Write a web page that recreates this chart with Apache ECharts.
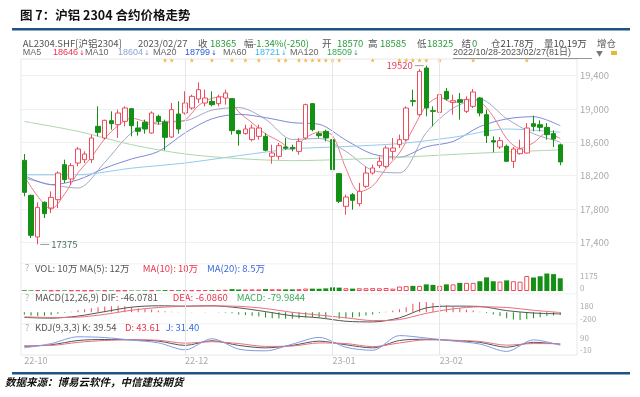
<!DOCTYPE html>
<html>
<head>
<meta charset="utf-8">
<script src="https://cdn.jsdelivr.net/npm/echarts@6/dist/echarts.min.js"></script>
<style>
  html, body { margin: 0; padding: 0; background: #fff; }
  #chart { width: 640px; height: 397px; }
</style>
</head>
<body>
<div id="chart"></div>
<script>
// trading days of AL2304, 2022/10/28 - 2023/02/27 (81 days)
const octDays = [28, 31];
const novDays = [1, 2, 3, 4, 7, 8, 9, 10, 11, 14, 15, 16, 17, 18, 21, 22, 23, 24, 25, 28, 29, 30];
const decDays = [1, 2, 5, 6, 7, 8, 9, 12, 13, 14, 15, 16, 19, 20, 21, 22, 23, 26, 27, 28, 29, 30];
const janDays = [3, 4, 5, 6, 9, 10, 11, 12, 13, 16, 17, 18, 19, 20, 30, 31];
const febDays = [1, 2, 3, 6, 7, 8, 9, 10, 13, 14, 15, 16, 17, 20, 21, 22, 23, 24, 27];
const monthLabels = ['22-10', '22-12', '23-01', '23-02'];
const priceTicks = [17400, 17800, 18200, 18600, 19000, 19400];

const opens = [18384, 17964, 17464, 17880, 17812, 17912, 18332, 18160, 18352, 18392, 18392, 18792, 18652, 18860, 18812, 18852, 19004, 18772, 18840, 18712,
  18912, 18844, 18664, 18940, 18952, 19012, 19120, 19072, 19092, 19064, 19132, 19124, 18740, 18704, 18632, 18672, 18672, 18432, 18432, 18544,
  18540, 18492, 18652, 19064, 18704, 18732, 18632, 18224, 17832, 17972, 17864, 18072, 18232, 18320, 18312, 18492, 18572, 18632, 19100, 18932,
  19492, 18980, 18960, 19212, 19080, 19112, 18972, 19032, 19132, 18932, 18620, 18544, 18552, 18372, 18464, 18472, 18824, 18812, 18780, 18704, 18570];
const closes = [18000, 17484, 17820, 17744, 17940, 18232, 18152, 18320, 18520, 18460, 18652, 18720, 18864, 18824, 18952, 19012, 18800, 18732, 18760, 18952,
  18852, 18660, 18992, 18760, 19072, 19152, 19232, 19132, 19052, 19144, 19192, 18740, 18704, 18760, 18772, 18772, 18504, 18472, 18560, 18528,
  18524, 18612, 19052, 18752, 18680, 18652, 18272, 17892, 17944, 17904, 18012, 18232, 18292, 18372, 18532, 18532, 18632, 19012, 19092, 19452,
  19012, 18972, 19172, 19120, 19100, 19080, 19112, 19204, 18952, 18680, 18604, 18620, 18372, 18520, 18520, 18772, 18792, 18780, 18692, 18640, 18365];
const highs = [18460, 17972, 17880, 17892, 18012, 18252, 18392, 18352, 18544, 18492, 18692, 19032, 18872, 18972, 18992, 19032, 19012, 18852, 18872, 18972,
  18932, 18872, 19072, 19092, 19212, 19172, 19320, 19232, 19212, 19172, 19232, 19132, 18752, 18812, 18812, 18812, 18712, 18572, 18592, 18652,
  18572, 18652, 19064, 19072, 18732, 18752, 18640, 18232, 17972, 17992, 18112, 18312, 18332, 18432, 18560, 18652, 18692, 19032, 19232, 19480,
  19520, 19032, 19240, 19252, 19172, 19192, 19152, 19240, 19144, 18992, 18672, 18664, 18572, 18544, 18632, 18832, 18920, 18864, 18832, 18744, 18585];
const lows = [17952, 17452, 17375, 17692, 17752, 17812, 18112, 18092, 18312, 18352, 18352, 18672, 18632, 18752, 18652, 18792, 18672, 18680, 18704, 18704,
  18812, 18504, 18652, 18704, 18932, 18992, 19072, 19032, 19032, 19032, 19052, 18692, 18560, 18692, 18612, 18632, 18492, 18344, 18392, 18512,
  18492, 18452, 18632, 18732, 18652, 18612, 18192, 17872, 17732, 17792, 17832, 18052, 18212, 18292, 18292, 18392, 18532, 18612, 19032, 18912,
  18912, 18792, 18932, 19104, 18932, 18872, 18952, 19012, 18912, 18592, 18480, 18520, 18372, 18292, 18452, 18464, 18732, 18732, 18632, 18544, 18325];

// moving averages (MA5 every 2 days, MA10/MA20 every 4, MA60/MA120 every 8)
const ma5 = [18192, 17952, 17798, 17978, 18233, 18421, 18643, 18802, 18890, 18851, 18819, 18843, 18867, 19042, 19128, 19150, 18966, 18834, 18702, 18616,
  18518, 18655, 18724, 18682, 18288, 18005, 18077, 18288, 18472, 18760, 19040, 19140, 19075, 19117, 19090, 18910, 18646, 18527, 18595, 18711, 18646];
const ma10 = [18172, 18092, 18052, 18360, 18712, 18847, 18859, 18986, 19018, 18877, 18634, 18646, 18491, 18263, 18234, 18716, 19010, 19118, 18884, 18704, 18604];
const ma20 = [18200, 18092, 18150, 18290, 18400, 18490, 18714, 18882, 18936, 18897, 18836, 18817, 18626, 18459, 18422, 18547, 18610, 18789, 18881, 18908, 18799];
const ma60 = [18212, 18212, 18290, 18352, 18440, 18520, 18550, 18585, 18660, 18760, 18721];
const ma120 = [18850, 18732, 18572, 18460, 18405, 18380, 18395, 18420, 18455, 18485, 18509];

// event stars above the candles (day index)
const starDays = [21, 22, 25, 28, 31, 33, 35, 38, 39, 41, 42, 43, 44, 45, 46, 47, 52, 56, 57, 58, 59, 60, 62, 67, 75];

// volume in hundreds of lots
const volumes = [60, 50, 70, 50, 40, 60, 50, 50, 60, 40, 50, 40, 50, 50, 40, 50, 40, 40, 50, 60,
  50, 70, 80, 60, 70, 60, 70, 80, 70, 90, 100, 150, 120, 120, 130, 130, 150, 140, 140, 130,
  130, 150, 200, 190, 180, 210, 290, 270, 220, 190, 220, 220, 230, 220, 240, 190, 360, 390, 410, 410,
  530, 490, 410, 530, 530, 650, 650, 650, 780, 1090, 780, 750, 850, 780, 750, 1200, 1080, 1180, 1400, 1350, 1019];

// MACD histogram (every day), DIF / DEA (every 4 days)
const macdHist = [-60, -90, -110, -100, -80, -40, -10, 20, 60, 90, 120, 150, 170, 180, 190, 180, 150, 120, 100, 80,
  50, 30, 20, 10, 5, -5, 5, 10, 5, -5, -10, -30, -60, -80, -100, -120, -150, -170, -180, -190,
  -190, -180, -150, -140, -150, -180, -200, -190, -170, -150, -120, -90, -60, -20, 20, 50, 90, 150, 250, 300,
  300, 280, 250, 200, 160, 120, 80, 50, 20, -20, -60, -110, -170, -210, -220, -200, -170, -140, -110, -90, -80];
const dif = [-150, -170, -110, 20, 150, 190, 180, 190, 130, 20, -100, -160, -260, -280, -160, 130, 180, 170, 50, -20, -46.08];
const dea = [-130, -150, -140, -60, 60, 140, 175, 185, 175, 110, 0, -80, -160, -240, -210, -30, 100, 160, 140, 60, -6.09];

// KDJ (every 4 days)
const kLine = [22, 35, 70, 78, 75, 65, 30, 68, 30, 10, 30, 65, 35, 10, 70, 80, 70, 55, 15, 55, 39.54];
const dLine = [28, 30, 55, 70, 76, 72, 48, 60, 45, 22, 25, 50, 45, 20, 50, 75, 72, 62, 32, 45, 43.61];
const jLine = [10, 45, 100, 94, 73, 51, -6, 84, 0, -14, 40, 95, 15, -10, 110, 90, 66, 41, -19, 75, 31.40];

const pad2 = n => (n < 10 ? '0' : '') + n;
const dates = [].concat(
  octDays.map(d => '22-10-' + pad2(d)),
  novDays.map(d => '22-11-' + pad2(d)),
  decDays.map(d => '22-12-' + pad2(d)),
  janDays.map(d => '23-01-' + pad2(d)),
  febDays.map(d => '23-02-' + pad2(d))
);
// two empty slots keep the right margin of the plot, as in the terminal
const cats = dates.concat(['', '']);

const labelIdx = dates.map((d, i) => (i === 0 || d.slice(0, 5) !== dates[i - 1].slice(0, 5)) && monthLabels.includes(d.slice(0, 5)) ? i : -1)
  .filter(i => i >= 0);
const gridLineDays = labelIdx.filter(i => i > 0);

const sparse = (values, step) => {
  const out = cats.map(() => null);
  values.forEach((v, k) => { out[k * step] = v; });
  return out;
};

const RED = '#ee4b5c';
const GREEN = '#149014';
const FONT = '"Noto Sans CJK SC", "Noto Sans", sans-serif';
const NARROW = '"Liberation Sans", "Noto Sans CJK SC", sans-serif';
const AXIS_GREY = '#aaa';

const chart = echarts.init(document.getElementById('chart'));

const makeX = (gridIndex, withLabels) => ({
  type: 'category',
  gridIndex,
  data: cats,
  boundaryGap: true,
  axisLine: { show: false },
  axisTick: { show: false },
  splitLine: { show: false },
  axisLabel: withLabels ? {
    show: true,
    interval: (idx) => labelIdx.includes(idx),
    formatter: v => v.slice(0, 5),
    align: 'left',
    margin: 1,
    color: AXIS_GREY,
    fontSize: 9,
    fontFamily: FONT
  } : { show: false }
});

const sideLabel = (size) => ({
  color: AXIS_GREY,
  fontSize: size,
  fontFamily: FONT,
  margin: 3,
  align: 'left'
});

const lineSeries = (name, data, color, xi, yi) => ({
  name,
  type: 'line',
  xAxisIndex: xi,
  yAxisIndex: yi,
  data,
  connectNulls: true,
  smooth: 0.3,
  showSymbol: false,
  symbol: 'none',
  silent: true,
  lineStyle: { color, width: 1 },
  z: 3
});

const txt = (x, y, text, fill, size, family) => ({
  type: 'text',
  x, y,
  silent: true,
  style: { text, fill: fill || '#555', font: (size || 9) + 'px ' + (family || FONT), verticalAlign: 'middle' }
});
const h1 = (x, text, fill) => txt(x, 43.5, text, fill, 9.5);
const h2 = (x, text, fill) => txt(x, 53, text, fill, 9, NARROW);
// MA value with its small falling arrow
const maVal = (x, value, fill) => ({
  type: 'text',
  x, y: 53,
  silent: true,
  style: {
    text: value + '{a|↓}',
    fill,
    font: '9px ' + NARROW,
    verticalAlign: 'middle',
    rich: { a: { fill, fontSize: 7, fontFamily: 'DejaVu Sans', padding: [0, 0, 0, 1] } }
  }
});

const option = {
  animation: false,
  backgroundColor: '#fff',
  grid: [
    { left: 21, top: 59, width: 556, height: 200 },
    { left: 21, top: 271, width: 556, height: 20 },
    { left: 21, top: 302, width: 556, height: 22 },
    { left: 21, top: 332, width: 556, height: 23 },
    { left: 21, top: 59, width: 556, height: 296, show: true, borderColor: '#e8e8e8', borderWidth: 1, backgroundColor: 'transparent' }
  ],
  xAxis: [makeX(0, false), makeX(1, false), makeX(2, false), makeX(3, true), makeX(4, false)],
  yAxis: [
    {
      type: 'value', gridIndex: 0, position: 'right', min: 17200, max: 19600,
      axisLine: { show: false },
      axisTick: { show: false, customValues: priceTicks },
      axisLabel: Object.assign({ customValues: priceTicks }, sideLabel(9.5)),
      splitLine: { lineStyle: { color: '#f0f0f0', width: 1 } }
    },
    {
      type: 'value', gridIndex: 1, position: 'right', min: 0, max: 1600,
      axisLine: { show: false }, axisTick: { show: false }, splitLine: { show: false },
      axisLabel: Object.assign({
        customValues: [0, 1175],
        formatter: v => (v === 0 ? '{lo|0}' : String(v)),
        rich: { lo: { padding: [0, 0, 7, 0], color: AXIS_GREY, fontSize: 8, fontFamily: FONT } }
      }, sideLabel(8))
    },
    {
      type: 'value', gridIndex: 2, position: 'right', min: -340, max: 300,
      axisLine: { show: false }, axisTick: { show: false }, splitLine: { show: false },
      axisLabel: Object.assign({ customValues: [180, -200] }, sideLabel(8))
    },
    {
      type: 'value', gridIndex: 3, position: 'right', min: -48, max: 139,
      axisLine: { show: false }, axisTick: { show: false }, splitLine: { show: false },
      axisLabel: Object.assign({ customValues: [90, -10] }, sideLabel(8))
    },
    { type: 'value', gridIndex: 4, show: false, min: 0, max: 1 }
  ],
  series: [
    {
      name: 'AL2304',
      type: 'candlestick',
      xAxisIndex: 0,
      yAxisIndex: 0,
      barWidth: 5,
      data: dates.map((d, i) => [opens[i], closes[i], lows[i], highs[i]]),
      itemStyle: { color: '#fff', color0: GREEN, borderColor: RED, borderColor0: GREEN, borderWidth: 1 },
      z: 4,
      markPoint: {
        silent: true,
        animation: false,
        data: [
          {
            coord: [dates[60], 19520], symbol: 'rect', symbolSize: [9, 1], symbolOffset: [-7, 0],
            itemStyle: { color: '#999' },
            label: { show: true, position: 'left', distance: 2, formatter: '19520', color: '#e0405a', fontSize: 9.5, fontFamily: FONT }
          },
          {
            coord: [dates[2], 17375], symbol: 'rect', symbolSize: [9, 1], symbolOffset: [7, 0],
            itemStyle: { color: '#999' },
            label: { show: true, position: 'right', distance: 2, formatter: '17375', color: '#4a7060', fontSize: 9.5, fontFamily: FONT }
          }
        ]
      }
    },
    lineSeries('MA5', sparse(ma5, 2), '#f07a8a', 0, 0),
    lineSeries('MA10', sparse(ma10, 4), '#a4a8c6', 0, 0),
    lineSeries('MA20', sparse(ma20, 4), '#7f8ad8', 0, 0),
    lineSeries('MA60', sparse(ma60, 8), '#94cbec', 0, 0),
    lineSeries('MA120', sparse(ma120, 8), '#acd8ac', 0, 0),
    {
      name: 'stars',
      type: 'scatter',
      xAxisIndex: 0,
      yAxisIndex: 0,
      clip: false,
      silent: true,
      symbol: 'path://M5,0 L6.2,3.5 L10,3.6 L7,5.9 L8.1,9.5 L5,7.4 L1.9,9.5 L3,5.9 L0,3.6 L3.8,3.5 Z',
      symbolSize: 4.5,
      itemStyle: { color: '#f3a21c' },
      data: starDays.map(i => [dates[i], 19585])
    },
    {
      name: 'VOL',
      type: 'bar',
      xAxisIndex: 1,
      yAxisIndex: 1,
      barWidth: 5,
      silent: true,
      data: volumes.map((v, i) => ({
        value: v,
        itemStyle: closes[i] >= opens[i]
          ? { color: '#fff', borderColor: RED, borderWidth: 1 }
          : { color: GREEN }
      }))
    },
    {
      name: 'MACD',
      type: 'bar',
      xAxisIndex: 2,
      yAxisIndex: 2,
      barWidth: 1,
      silent: true,
      data: macdHist.map(v => ({ value: v, itemStyle: { color: v >= 0 ? RED : GREEN } }))
    },
    lineSeries('DIF', sparse(dif, 4), '#555', 2, 2),
    lineSeries('DEA', sparse(dea, 4), '#e8707e', 2, 2),
    lineSeries('K', sparse(kLine, 4), '#555', 3, 3),
    lineSeries('D', sparse(dLine, 4), '#e8707e', 3, 3),
    lineSeries('J', sparse(jLine, 4), '#7f9ae8', 3, 3),
    {
      name: 'monthLines',
      type: 'line',
      xAxisIndex: 4,
      yAxisIndex: 4,
      data: cats.map(() => '-'),
      silent: true,
      z: 1,
      markLine: {
        silent: true,
        animation: false,
        symbol: ['none', 'none'],
        label: { show: false },
        lineStyle: { color: '#e6e6e6', type: 'solid', width: 1 },
        data: gridLineDays.map(i => ({ xAxis: dates[i] }))
      }
    }
  ],
  graphic: [
    { type: 'text', left: 20, top: 9, silent: true,
      style: { text: '图 7：沪铝 2304 合约价格走势', font: 'bold 12.5px ' + FONT, fill: '#111' } },
    { type: 'rect', silent: true, shape: { x: 12, y: 28, width: 618, height: 2.5 }, style: { fill: '#1f5386' } },

    h1(22.7, 'AL2304.SHF[沪铝2304]'),
    h1(138, '2023/02/27'),
    h1(198, '收'),
    h1(210, '18365', '#2a9a3a'),
    h1(244, '幅'),
    h1(253, '-1.34%(-250)', '#2a9a3a'),
    h1(322, '开'),
    h1(337, '18570', '#2a9a3a'),
    h1(368, '高'),
    h1(380, '18585', '#2a9a3a'),
    h1(417, '低'),
    h1(427, '18325', '#2a9a3a'),
    h1(461.5, '结'),
    h1(472, '0', '#2a9a3a'),
    h1(491, '仓'),
    h1(500.5, '21.78万', '#444'),
    h1(544, '量'),
    h1(553.5, '10.19万', '#444'),
    h1(597, '增仓'),

    h2(22.7, 'MA5', '#666'),
    maVal(53, '18646', '#e8344e'),
    h2(85, 'MA10', '#666'),
    maVal(118, '18604', '#8aa6d6'),
    h2(153, 'MA20', '#666'),
    maVal(185, '18799', '#2a5ad8'),
    h2(223, 'MA60', '#666'),
    maVal(255, '18721', '#40b8ee'),
    h2(290, 'MA120', '#666'),
    maVal(327, '18509', '#3aa858'),
    h2(453, '2022/10/28-2023/02/27(81日)', '#555'),
    { type: 'rect', silent: true, shape: { x: 453, y: 58, width: 139, height: 0.8 }, style: { fill: '#777' } },
    txt(596, 53, '▼', '#777', 7),
    { type: 'rect', silent: true, shape: { x: 611, y: 51, width: 6, height: 4 }, style: { fill: '#e6b83a' } },

    { type: 'rect', silent: true, shape: { x: 21, y: 263.5, width: 556, height: 0.8 }, style: { fill: '#ececec' } },
    { type: 'rect', silent: true, shape: { x: 21, y: 293.5, width: 556, height: 0.8 }, style: { fill: '#ececec' } },
    { type: 'rect', silent: true, shape: { x: 21, y: 323.5, width: 556, height: 0.8 }, style: { fill: '#ececec' } },

    txt(25, 268, '?', '#aaa'),
    txt(35, 268, 'VOL: 10万 MA(5): 12万', '#555', 9.5),
    txt(142.7, 268, 'MA(10): 10万', '#e8344e', 9.5),
    txt(207, 268, 'MA(20): 8.5万', '#3a6ae0', 9.5),

    txt(25, 297.7, '?', '#aaa'),
    txt(35, 297.7, 'MACD(12,26,9) DIF: -46.0781', '#555', 9.5),
    txt(172.7, 297.7, 'DEA: -6.0860', '#e8344e', 9.5),
    txt(236.7, 297.7, 'MACD: -79.9844', '#3aa858', 9.5),

    txt(25, 327.7, '?', '#aaa'),
    txt(35, 327.7, 'KDJ(9,3,3) K: 39.54', '#555', 9.5),
    txt(125, 327.7, 'D: 43.61', '#e8344e', 9.5),
    txt(165.7, 327.7, 'J: 31.40', '#3a6ae0', 9.5),

    { type: 'rect', silent: true, shape: { x: 12, y: 372, width: 618, height: 2.5 }, style: { fill: '#1f5386' } },
    { type: 'text', left: 5, top: 376.5, silent: true,
      style: { text: '数据来源：博易云软件，中信建投期货', font: 'italic bold 10.5px ' + FONT, fill: '#111' } }
  ]
};

chart.setOption(option);
window.addEventListener('resize', () => chart.resize());
</script>
</body>
</html>
